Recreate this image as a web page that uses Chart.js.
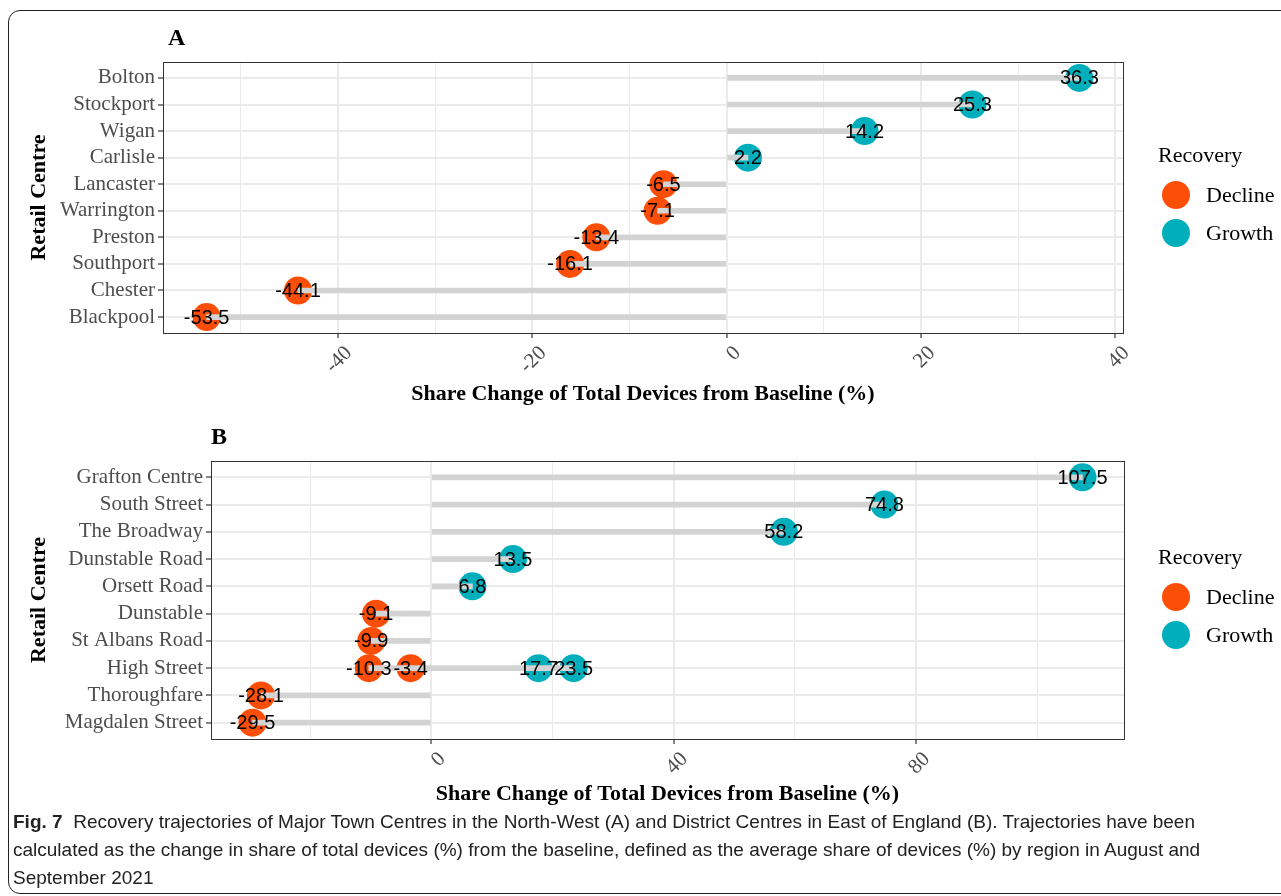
<!DOCTYPE html>
<html>
<head>
<meta charset="utf-8">
<script src="https://cdn.jsdelivr.net/npm/chart.js@4/dist/chart.umd.min.js"></script>
<style>
  body { margin: 0; background: #fff; width: 1281px; height: 896px; overflow: hidden; position: relative; }
  .frame { position: absolute; left: 8px; top: 10px; width: 1300px; height: 882px; border: 1px solid #222; border-radius: 12px; }
  canvas { position: absolute; left: 0; }
  .panel { position: absolute; font: bold 24px 'Liberation Serif', serif; line-height: 24px; }
  .leg { position: absolute; font: 22px 'Liberation Serif', serif; line-height: 22px; color: #000; white-space: nowrap; }
  .dot { position: absolute; width: 28px; height: 28px; border-radius: 50%; }
  .caption { position: absolute; left: 13px; top: 808px; font: 19px 'Liberation Sans Narrow', 'Arial Narrow', sans-serif; line-height: 28px; color: #222; white-space: nowrap; }
</style>
</head>
<body>
<div class="frame"></div>
<canvas id="chartA" width="1281" height="410" style="top:0"></canvas>
<canvas id="chartB" width="1281" height="390" style="top:420px"></canvas>
<div class="panel" style="left:168px;top:25px">A</div>
<div class="panel" style="left:211px;top:424px">B</div>
<div id="legends"></div>
<div class="caption"><b>Fig. 7</b>&nbsp; Recovery trajectories of Major Town Centres in the North-West (A) and District Centres in East of England (B). Trajectories have been<br>calculated as the change in share of total devices (%) from the baseline, defined as the average share of devices (%) by region in August and<br>September 2021</div>
<script>
// Panel A: North-West major town centres
const centresA = ['Bolton', 'Stockport', 'Wigan', 'Carlisle', 'Lancaster', 'Warrington', 'Preston', 'Southport', 'Chester', 'Blackpool'];
const changeA = [36.3, 25.3, 14.2, 2.2, -6.5, -7.1, -13.4, -16.1, -44.1, -53.5];
const xTicksA = [-50, -40, -30, -20, -10, 0, 10, 20, 30, 40];
const xLabelsA = ['', '-40', '', '-20', '', '0', '', '20', '', '40'];

// Panel B: East of England district centres (High Street has four points)
const centresB = ['Grafton Centre', 'South Street', 'The Broadway', 'Dunstable Road', 'Orsett Road', 'Dunstable', 'St Albans Road', 'High Street', 'Thoroughfare', 'Magdalen Street'];
const pointCentreB = ['Grafton Centre', 'South Street', 'The Broadway', 'Dunstable Road', 'Orsett Road', 'Dunstable', 'St Albans Road', 'High Street', 'High Street', 'High Street', 'High Street', 'Thoroughfare', 'Magdalen Street'];
const changeB = [107.5, 74.8, 58.2, 13.5, 6.8, -9.1, -9.9, -10.3, -3.4, 17.7, 23.5, -28.1, -29.5];
const xTicksB = [-20, 0, 20, 40, 60, 80, 100];
const xLabelsB = ['', '0', '', '40', '', '80', ''];

const recoveryLevels = ['Decline', 'Growth'];
const recoveryColours = ['#FC4E07', '#00AFBB'];

const serif = "'Liberation Serif', 'Times New Roman', serif";

// writes the value inside each dot
const valueLabels = {
  id: 'valueLabels',
  afterDatasetsDraw(chart) {
    const ctx = chart.ctx;
    ctx.save();
    ctx.font = "20px 'Liberation Sans', Arial, sans-serif";
    ctx.fillStyle = '#000';
    ctx.textAlign = 'center';
    ctx.textBaseline = 'middle';
    chart.data.datasets.forEach((ds, d) => {
      if (ds.type !== 'scatter') return;
      chart.getDatasetMeta(d).data.forEach((el, i) => {
        ctx.fillText(ds.data[i].x.toFixed(1), el.x, el.y + 1);
      });
    });
    ctx.restore();
  }
};

// panel border like theme_bw
const panelBorder = {
  id: 'panelBorder',
  afterDraw(chart) {
    const a = chart.chartArea;
    const ctx = chart.ctx;
    ctx.save();
    ctx.strokeStyle = '#333';
    ctx.lineWidth = 1;
    ctx.strokeRect(Math.round(a.left) + 0.5, Math.round(a.top) + 0.5, Math.round(a.right - a.left), Math.round(a.bottom - a.top));
    ctx.restore();
  }
};

function makePanel(id, centres, pointCentres, values, xTicks, xLabels, box) {
  const rows = pointCentres.map((c) => centres.indexOf(c));
  const sticks = centres.map((c, i) => {
    const vals = values.filter((v, j) => rows[j] === i);
    return { y: i, x: [Math.min(0, ...vals), Math.max(0, ...vals)] };
  });
  const lo = Math.min(...values);
  const hi = Math.max(...values);
  const pad = (hi - lo) * 0.05;
  const majors = xTicks.filter((t, k) => xLabels[k] !== '');

  const pointSet = (level, colour, test) => ({
    type: 'scatter',
    label: level,
    data: values.map((v, j) => ({ x: v, y: rows[j] })).filter((p) => test(p.x)),
    backgroundColor: colour,
    borderWidth: 0,
    pointRadius: 14,
    pointHoverRadius: 14,
    clip: false
  });

  return new Chart(document.getElementById(id), {
    type: 'bar',
    data: {
      datasets: [
        {
          label: 'stick',
          data: sticks,
          backgroundColor: '#D3D3D3',
          barThickness: 5,
          grouped: false
        },
        pointSet(recoveryLevels[0], recoveryColours[0], (v) => v < 0),
        pointSet(recoveryLevels[1], recoveryColours[1], (v) => v >= 0)
      ]
    },
    options: {
      indexAxis: 'y',
      responsive: false,
      animation: false,
      events: [],
      layout: { padding: { top: box.top, right: box.right, left: 0, bottom: 0 } },
      plugins: { legend: { display: false }, tooltip: { enabled: false } },
      scales: {
        x: {
          type: 'linear',
          min: lo - pad,
          max: hi + pad,
          afterBuildTicks(scale) { scale.ticks = xTicks.map((t) => ({ value: t })); },
          afterFit(scale) { scale.height = box.xh; },
          ticks: {
            callback(value) { return xLabels[xTicks.indexOf(value)]; },
            minRotation: 45,
            maxRotation: 45,
            autoSkip: false,
            labelOffset: 11,
            padding: 3,
            color: '#4D4D4D',
            font: { family: serif, size: 21 }
          },
          grid: {
            color: '#EBEBEB',
            lineWidth: (c) => majors.includes(c.tick && c.tick.value) ? 2 : 1,
            tickColor: (c) => majors.includes(c.tick && c.tick.value) ? '#333' : 'rgba(0,0,0,0)',
            tickLength: 5,
            tickWidth: 1.2
          },
          border: { display: true, color: '#333', width: 1 },
          title: {
            display: true,
            text: 'Share Change of Total Devices from Baseline (%)',
            color: '#000',
            font: { family: serif, size: 22, weight: 'bold' },
            padding: { top: 0, bottom: 2 }
          }
        },
        y: {
          type: 'linear',
          reverse: true,
          offset: false,
          min: -0.6,
          max: centres.length - 0.4,
          afterBuildTicks(scale) { scale.ticks = centres.map((c, i) => ({ value: i })); },
          afterFit(scale) { scale.width = box.yw; },
          ticks: {
            callback(value) { return centres[value]; },
            autoSkip: false,
            padding: 3,
            color: '#4D4D4D',
            font: { family: serif, size: 21 }
          },
          grid: {
            offset: false,
            color: '#EBEBEB',
            lineWidth: 2,
            tickColor: '#333',
            tickLength: 5,
            tickWidth: 1.2
          },
          border: { display: true, color: '#333', width: 1 },
          title: {
            display: true,
            text: 'Retail Centre',
            color: '#000',
            font: { family: serif, size: 22, weight: 'bold' },
            padding: { top: 26, bottom: 0 }
          }
        }
      }
    },
    plugins: [valueLabels, panelBorder]
  });
}

makePanel('chartA', centresA, centresA, changeA, xTicksA, xLabelsA, { top: 62, right: 158, yw: 163, xh: 77 });
makePanel('chartB', centresB, pointCentreB, changeB, xTicksB, xLabelsB, { top: 41, right: 157, yw: 211, xh: 71 });

// legends (one per panel)
const legendTops = [155, 557];
const holder = document.getElementById('legends');
legendTops.forEach((top) => {
  const title = document.createElement('div');
  title.className = 'leg';
  title.style.left = '1158px';
  title.style.top = (top - 11) + 'px';
  title.textContent = 'Recovery';
  holder.appendChild(title);
  recoveryLevels.forEach((level, k) => {
    const cy = top + 40 + k * 38;
    const dot = document.createElement('div');
    dot.className = 'dot';
    dot.style.left = '1162px';
    dot.style.top = (cy - 14) + 'px';
    dot.style.background = recoveryColours[k];
    holder.appendChild(dot);
    const lab = document.createElement('div');
    lab.className = 'leg';
    lab.style.left = '1206px';
    lab.style.top = (cy - 11) + 'px';
    lab.textContent = level;
    holder.appendChild(lab);
  });
});
</script>
</body>
</html>
